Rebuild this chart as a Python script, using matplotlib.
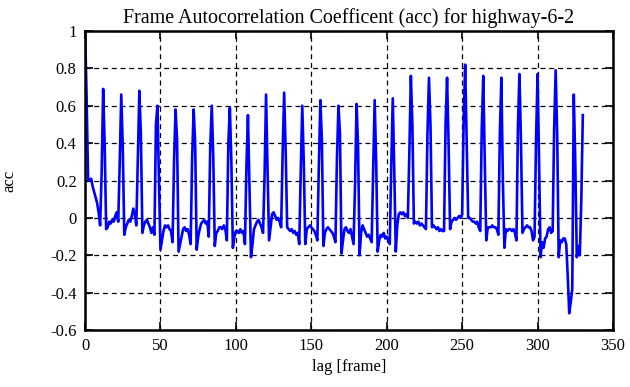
import numpy as np
import matplotlib
matplotlib.use("Agg")
import matplotlib.pyplot as plt

# autocorrelation values, one row per 12-frame period (lags 0..330)
ACC_ROWS = [
    [1.00, 0.66, 0.21, 0.20, 0.21, 0.17, 0.14, 0.11, 0.08, 0.03, -0.04, 0.24],
    [0.69, 0.40, -0.06, -0.05, -0.02, -0.03, -0.01, -0.02, 0.01, 0.03, -0.02, 0.30],
    [0.66, 0.38, -0.09, -0.05, -0.03, -0.01, -0.02, 0.01, 0.05, 0.02, -0.04, 0.32],
    [0.68, 0.45, -0.08, -0.04, -0.02, -0.01, -0.03, -0.05, -0.08, -0.05, -0.09, 0.50],
    [0.60, 0.20, -0.17, -0.12, -0.07, -0.04, -0.05, -0.04, -0.06, -0.07, -0.13, 0.30],
    [0.58, 0.42, -0.18, -0.14, -0.10, -0.06, -0.05, -0.07, -0.06, -0.09, -0.14, 0.32],
    [0.58, 0.40, -0.17, -0.10, -0.06, -0.03, -0.02, -0.01, -0.03, -0.02, -0.10, 0.38],
    [0.60, 0.33, -0.15, -0.08, -0.07, -0.05, -0.05, -0.06, -0.04, -0.06, -0.12, 0.40],
    [0.59, 0.30, -0.16, -0.10, -0.07, -0.07, -0.08, -0.06, -0.08, -0.07, -0.14, 0.28],
    [0.55, 0.18, -0.21, -0.14, -0.06, -0.04, -0.02, -0.01, -0.03, -0.05, -0.08, 0.22],
    [0.66, 0.25, -0.12, -0.05, 0.02, 0.03, 0.01, -0.01, 0.00, -0.02, -0.05, 0.35],
    [0.67, 0.36, -0.05, -0.06, -0.07, -0.06, -0.08, -0.07, -0.09, -0.08, -0.14, 0.25],
    [0.60, 0.30, -0.14, -0.06, -0.05, -0.04, -0.05, -0.06, -0.07, -0.09, -0.12, 0.28],
    [0.63, 0.42, -0.15, -0.08, -0.06, -0.05, -0.06, -0.07, -0.08, -0.10, -0.13, 0.32],
    [0.60, 0.45, -0.19, -0.12, -0.06, -0.05, -0.07, -0.08, -0.06, -0.10, -0.14, 0.18],
    [0.61, 0.38, -0.20, -0.08, -0.04, -0.06, -0.08, -0.10, -0.09, -0.11, -0.13, 0.25],
    [0.63, 0.30, -0.18, -0.12, -0.09, -0.10, -0.08, -0.11, -0.10, -0.12, -0.14, 0.28],
    [0.64, 0.25, -0.18, -0.04, 0.02, 0.03, 0.02, 0.03, 0.01, 0.02, 0.00, 0.35],
    [0.76, 0.50, -0.03, -0.02, -0.03, -0.02, -0.04, -0.03, -0.04, -0.05, -0.06, 0.45],
    [0.75, 0.50, -0.05, -0.04, -0.05, -0.06, -0.05, -0.07, -0.06, -0.07, -0.07, 0.50],
    [0.75, 0.40, -0.06, -0.02, -0.01, 0.00, -0.01, 0.00, 0.01, 0.00, 0.02, 0.52],
    [0.82, 0.40, 0.00, 0.00, -0.01, -0.02, -0.02, -0.03, -0.02, -0.05, -0.07, 0.48],
    [0.76, 0.30, -0.12, -0.05, -0.05, -0.05, -0.04, -0.05, -0.05, -0.06, -0.09, 0.45],
    [0.75, 0.20, -0.16, -0.06, -0.07, -0.06, -0.06, -0.07, -0.06, -0.08, -0.12, 0.50],
    [0.77, 0.40, -0.08, -0.06, -0.05, -0.04, -0.05, -0.05, -0.07, -0.12, -0.10, 0.42],
    [0.77, 0.30, -0.21, -0.13, -0.16, -0.11, -0.10, -0.06, -0.05, -0.08, -0.07, 0.48],
    [0.79, 0.45, -0.21, -0.12, -0.13, -0.11, -0.11, -0.14, -0.31, -0.51, -0.45, -0.38],
    [0.66, 0.30, -0.21, -0.15, -0.20, 0.10, 0.55],
]
acc = [v for row in ACC_ROWS for v in row]
lag = np.arange(len(acc))

X_TICKS = [0, 50, 100, 150, 200, 250, 300, 350]
Y_TICKS = [-0.6, -0.4, -0.2, 0, 0.2, 0.4, 0.6, 0.8, 1]

plt.rcParams["font.family"] = ["Liberation Serif", "DejaVu Serif"]
plt.rcParams["font.size"] = 12

fig = plt.figure(figsize=(6.3, 3.87), dpi=100)
ax = fig.add_axes([0.135, 0.147, 0.838, 0.773])

ax.plot(lag, acc, color="#0000ff", lw=1.9)

ax.set_xlim(0, 350)
ax.set_ylim(-0.6, 1)
ax.set_xticks(X_TICKS)
ax.set_yticks(Y_TICKS)
ax.set_yticklabels([f"{t:g}" for t in Y_TICKS])
ax.grid(True, color="black", linestyle=(0, (4, 3)), linewidth=0.9)
ax.tick_params(direction="in", length=6, width=1.2, top=True, right=True, pad=6)
for s in ax.spines.values():
    s.set_linewidth(1.8)

ax.set_title("Frame Autocorrelation Coefficent (acc) for highway-6-2", pad=6)
ax.set_xlabel("lag [frame]", labelpad=3)
ax.set_ylabel("acc", labelpad=24)

fig.savefig("out.png", dpi=100)
